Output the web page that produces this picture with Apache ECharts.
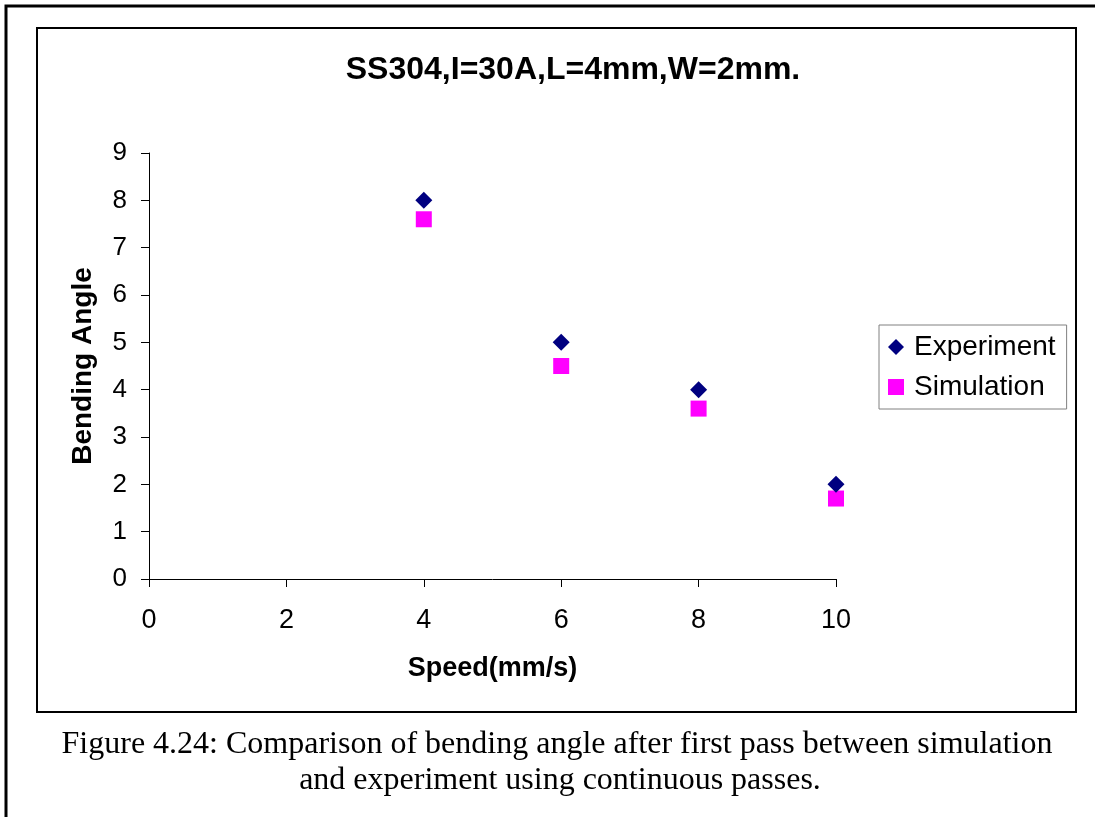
<!DOCTYPE html>
<html>
<head>
<meta charset="utf-8">
<script src="https://cdn.jsdelivr.net/npm/echarts@6/dist/echarts.min.js"></script>
<style>
  html, body { margin: 0; padding: 0; background: #fff; }
  #main { width: 1095px; height: 817px; }
</style>
</head>
<body>
<div id="main"></div>
<script>
// data
var speed = [4, 6, 8, 10];
var experiment = [8, 5, 4, 2];
var simulation = [7.6, 4.5, 3.6, 1.7];
var seriesNames = ['Experiment', 'Simulation'];
var titleText = 'SS304,I=30A,L=4mm,W=2mm.';
var captionLines = [
    'Figure 4.24: Comparison of bending angle after first pass between simulation',
    'and experiment using continuous passes.'
];

function pairs(xs, ys) {
    return xs.map(function (x, i) { return [x, ys[i]]; });
}

var chart = echarts.init(document.getElementById('main'), null, { renderer: 'canvas' });

var option = {
    backgroundColor: '#fff',
    animation: false,
    title: {
        text: titleText,
        left: 568,
        top: 49,
        textAlign: 'center',
        textStyle: {
            fontFamily: 'Liberation Sans, Arial',
            fontSize: 32,
            fontWeight: 'bold',
            color: '#000'
        }
    },
    legend: {
        orient: 'vertical',
        left: 879,
        top: 325,
        data: [
            { name: seriesNames[0], icon: 'diamond' },
            { name: seriesNames[1], icon: 'rect' }
        ],
        itemWidth: 16,
        itemHeight: 16,
        itemGap: 12,
        padding: [8, 11, 8, 9],
        borderColor: '#808080',
        borderWidth: 1,
        textStyle: {
            fontFamily: 'Liberation Sans, Arial',
            fontSize: 28,
            color: '#000',
            padding: [0, 0, 0, 5]
        }
    },
    grid: {
        left: 149,
        right: 1095 - 836,
        top: 153,
        bottom: 817 - 579,
        containLabel: false
    },
    xAxis: {
        type: 'value',
        min: 0,
        max: 10,
        interval: 2,
        name: 'Speed(mm/s)',
        nameLocation: 'middle',
        nameGap: 76,
        nameTextStyle: {
            fontFamily: 'Liberation Sans, Arial',
            fontSize: 27,
            fontWeight: 'bold',
            color: '#000'
        },
        axisLine: { show: true, lineStyle: { color: '#000', width: 1 } },
        axisTick: { show: true, length: 8, lineStyle: { color: '#000' } },
        axisLabel: {
            margin: 28,
            fontFamily: 'Liberation Sans, Arial',
            fontSize: 27,
            color: '#000'
        },
        splitLine: { show: false }
    },
    yAxis: {
        type: 'value',
        min: 0,
        max: 9,
        interval: 1,
        name: 'Bending Angle',
        nameLocation: 'middle',
        nameGap: 52,
        nameTextStyle: {
            fontFamily: 'Liberation Sans, Arial',
            fontSize: 28,
            fontWeight: 'bold',
            color: '#000'
        },
        axisLine: { show: true, lineStyle: { color: '#000', width: 1 } },
        axisTick: { show: true, length: 8, lineStyle: { color: '#000' } },
        axisLabel: {
            margin: 22,
            fontFamily: 'Liberation Sans, Arial',
            fontSize: 26,
            color: '#000'
        },
        splitLine: { show: false }
    },
    series: [
        {
            name: seriesNames[0],
            type: 'scatter',
            symbol: 'diamond',
            symbolSize: 17,
            itemStyle: { color: '#000080', opacity: 1 },
            data: pairs(speed, experiment),
            z: 3
        },
        {
            name: seriesNames[1],
            type: 'scatter',
            symbol: 'rect',
            symbolSize: 16,
            itemStyle: { color: '#ff00ff', opacity: 1 },
            data: pairs(speed, simulation),
            z: 2
        }
    ],
    graphic: [
        // outer page frame
        {
            type: 'polyline',
            shape: { points: [[6, 817], [6, 6], [1095, 6]] },
            style: { stroke: '#000', lineWidth: 3, fill: null },
            silent: true
        },
        // chart area frame
        {
            type: 'rect',
            shape: { x: 37, y: 28, width: 1039, height: 684 },
            style: { stroke: '#000', lineWidth: 2, fill: null },
            silent: true,
            z: -1
        },
        {
            type: 'text',
            x: 557,
            y: 745,
            style: {
                text: captionLines[0],
                align: 'center',
                verticalAlign: 'middle',
                fontFamily: 'Liberation Serif, Times New Roman',
                fontSize: 32,
                fill: '#000'
            }
        },
        {
            type: 'text',
            x: 560,
            y: 781,
            style: {
                text: captionLines[1],
                align: 'center',
                verticalAlign: 'middle',
                fontFamily: 'Liberation Serif, Times New Roman',
                fontSize: 32,
                fill: '#000'
            }
        }
    ]
};

chart.setOption(option);
</script>
</body>
</html>
